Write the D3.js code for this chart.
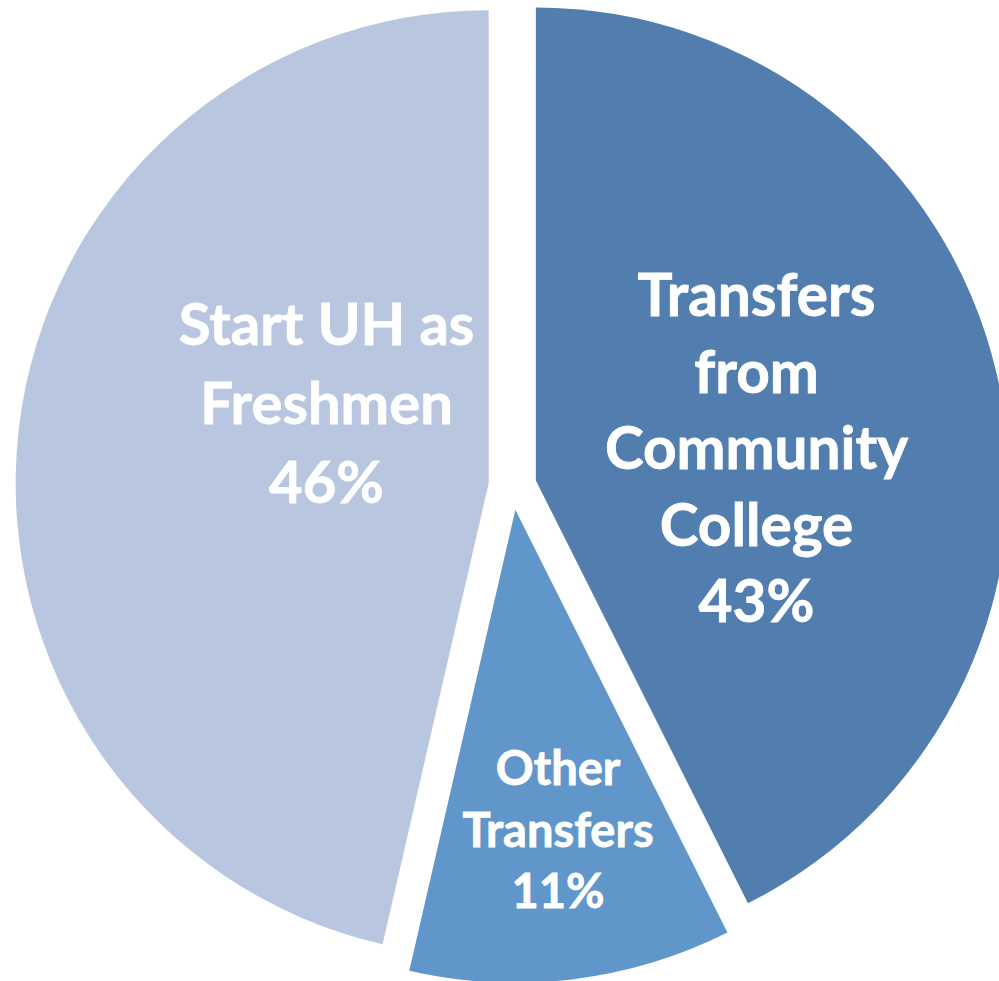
<!DOCTYPE html>
<html>
<head>
  <script src="https://d3js.org/d3.v7.min.js"></script>
  <style>
    body { margin: 0; background: #fff; }
    text { font-family: 'Lato', sans-serif; font-weight: bold; fill: #fff; stroke: #fff; stroke-width: 0.8px; }
  </style>
</head>
<body>
  <svg id="chart" width="999" height="981"></svg>
  <script>
    // slices clockwise from 12 o'clock
    var categories = ["Transfers from Community College", "Other Transfers", "Start UH as Freshmen"];
    var shares = [42.6, 11.0, 46.4];
    var labelLines = [
      ["Transfers", "from", "Community", "College"],
      ["Other", "Transfers"],
      ["Start UH as", "Freshmen"]
    ];
    var colors = ["#517EAE", "#6096CA", "#B8C6E0"];

    // layout (first baseline of each label, relative to pie centre)
    var cx = 512.5, cy = 486, radius = 473, explode = 24;
    var labelOffsets = [[244, -170], [45.5, 299], [-186, -141]];
    var fontSizes = [58.5, 47, 58];
    var lineGaps = [76.5, 61.5, 79];

    var svg = d3.select("#chart");
    var g = svg.append("g").attr("transform", "translate(" + cx + "," + cy + ")");

    var pie = d3.pie().sort(null).value(d => d);
    var arc = d3.arc().innerRadius(0).outerRadius(radius);
    var arcs = pie(shares);

    g.selectAll("path")
      .data(arcs)
      .enter()
      .append("path")
      .attr("d", arc)
      .attr("fill", (d, i) => colors[i])
      .attr("transform", function (d) {
        var a = (d.startAngle + d.endAngle) / 2;
        return "translate(" + (Math.sin(a) * explode) + "," + (-Math.cos(a) * explode) + ")";
      });

    arcs.forEach(function (d, i) {
      var lines = labelLines[i].concat([Math.round(d.data) + "%"]);
      var t = g.append("text")
        .attr("text-anchor", "middle")
        .style("font-size", fontSizes[i] + "px");
      lines.forEach(function (line, j) {
        t.append("tspan")
          .attr("x", labelOffsets[i][0])
          .attr("y", labelOffsets[i][1] + j * lineGaps[i])
          .text(line);
      });
    });
  </script>
</body>
</html>
